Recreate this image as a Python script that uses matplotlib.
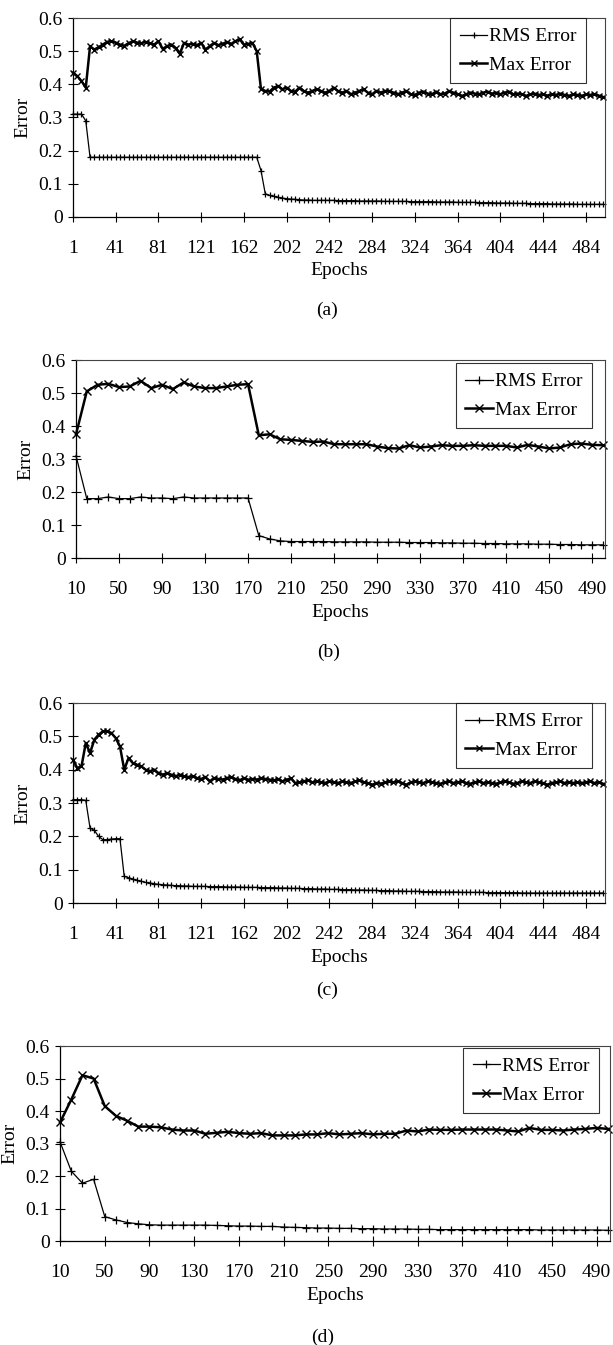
import matplotlib
matplotlib.use('Agg')
from matplotlib import pyplot as plt
import numpy as np

plt.rcParams['font.family'] = ['Liberation Serif', 'DejaVu Serif']

# panels (a) and (c): 125 samples, category axis labelled every 10 samples
epoch_labels_ac = ['1', '41', '81', '121', '162', '202', '242', '284',
                   '324', '364', '404', '444', '484']

rms_a = [0.31, 0.31, 0.31, 0.29, 0.18, 0.18, 0.18, 0.18, 0.18, 0.18,
         0.18, 0.18, 0.18, 0.18, 0.18, 0.18, 0.18, 0.18, 0.18, 0.18,
         0.18, 0.18, 0.18, 0.18, 0.18, 0.18, 0.18, 0.18, 0.18, 0.18,
         0.18, 0.18, 0.18, 0.18, 0.18, 0.18, 0.18, 0.18, 0.18, 0.18,
         0.18, 0.18, 0.18, 0.18, 0.14, 0.07, 0.065, 0.062, 0.059, 0.057,
         0.055, 0.054, 0.053, 0.052, 0.051, 0.051, 0.05, 0.05, 0.05, 0.05,
         0.05, 0.05, 0.049, 0.049, 0.049, 0.049, 0.049, 0.048, 0.048, 0.048,
         0.048, 0.048, 0.048, 0.047, 0.047, 0.047, 0.047, 0.047, 0.047, 0.046,
         0.046, 0.046, 0.046, 0.046, 0.046, 0.045, 0.045, 0.045, 0.045, 0.045,
         0.044, 0.044, 0.044, 0.044, 0.044, 0.043, 0.043, 0.043, 0.043, 0.042,
         0.042, 0.042, 0.042, 0.041, 0.041, 0.041, 0.041, 0.040, 0.040, 0.040,
         0.040, 0.040, 0.039, 0.039, 0.039, 0.039, 0.039, 0.039, 0.038, 0.038,
         0.038, 0.038, 0.038, 0.038, 0.038]
max_a = [0.435, 0.425, 0.41, 0.39, 0.515, 0.505, 0.512, 0.52, 0.528, 0.53,
         0.526, 0.52, 0.516, 0.524, 0.53, 0.526, 0.524, 0.528, 0.524, 0.52,
         0.53, 0.507, 0.515, 0.52, 0.51, 0.492, 0.525, 0.52, 0.522, 0.518,
         0.525, 0.505, 0.515, 0.525, 0.518, 0.522, 0.528, 0.522, 0.53, 0.536,
         0.52, 0.522, 0.525, 0.50, 0.385, 0.38, 0.378, 0.39, 0.395, 0.385,
         0.39, 0.38, 0.378, 0.39, 0.38, 0.375, 0.38, 0.385, 0.38, 0.375,
         0.38, 0.39, 0.38, 0.375, 0.38, 0.37, 0.375, 0.38, 0.385, 0.375,
         0.37, 0.38, 0.375, 0.38, 0.38, 0.375, 0.37, 0.375, 0.38, 0.37,
         0.368, 0.375, 0.378, 0.372, 0.37, 0.378, 0.37, 0.372, 0.38, 0.375,
         0.37, 0.365, 0.37, 0.375, 0.372, 0.37, 0.375, 0.378, 0.372, 0.375,
         0.37, 0.375, 0.378, 0.37, 0.372, 0.37, 0.365, 0.37, 0.372, 0.368,
         0.37, 0.366, 0.37, 0.368, 0.372, 0.368, 0.365, 0.37, 0.368, 0.365,
         0.37, 0.368, 0.37, 0.366, 0.362]

rms_c = [0.31, 0.31, 0.31, 0.308, 0.225, 0.218, 0.2, 0.19, 0.19, 0.192,
         0.193, 0.193, 0.08, 0.076, 0.072, 0.068, 0.065, 0.062, 0.06, 0.058,
         0.056, 0.055, 0.054, 0.053, 0.052, 0.052, 0.051, 0.051, 0.05, 0.05,
         0.05, 0.05, 0.049, 0.049, 0.049, 0.049, 0.048, 0.048, 0.048, 0.048,
         0.047, 0.047, 0.047, 0.047, 0.046, 0.046, 0.046, 0.046, 0.045, 0.045,
         0.045, 0.044, 0.044, 0.044, 0.043, 0.043, 0.043, 0.042, 0.042, 0.042,
         0.041, 0.041, 0.041, 0.040, 0.040, 0.040, 0.039, 0.039, 0.039, 0.038,
         0.038, 0.038, 0.037, 0.037, 0.037, 0.036, 0.036, 0.036, 0.035, 0.035,
         0.035, 0.035, 0.034, 0.034, 0.034, 0.034, 0.033, 0.033, 0.033, 0.033,
         0.033, 0.032, 0.032, 0.032, 0.032, 0.032, 0.032, 0.031, 0.031, 0.031,
         0.031, 0.031, 0.031, 0.031, 0.031, 0.030, 0.030, 0.030, 0.030, 0.030,
         0.030, 0.030, 0.030, 0.030, 0.030, 0.030, 0.030, 0.030, 0.030, 0.030,
         0.030, 0.030, 0.030, 0.030, 0.030]
max_c = [0.43, 0.405, 0.41, 0.48, 0.45, 0.49, 0.505, 0.515, 0.515, 0.51,
         0.495, 0.47, 0.40, 0.435, 0.42, 0.415, 0.41, 0.40, 0.395, 0.40,
         0.39, 0.385, 0.39, 0.385, 0.38, 0.385, 0.38, 0.378, 0.38, 0.375,
         0.372, 0.378, 0.365, 0.375, 0.372, 0.37, 0.375, 0.378, 0.372, 0.368,
         0.375, 0.37, 0.372, 0.37, 0.375, 0.372, 0.37, 0.368, 0.372, 0.365,
         0.37, 0.374, 0.36, 0.362, 0.365, 0.368, 0.362, 0.365, 0.362, 0.36,
         0.365, 0.362, 0.36, 0.365, 0.362, 0.36, 0.365, 0.368, 0.362, 0.36,
         0.355, 0.36, 0.358, 0.362, 0.365, 0.362, 0.365, 0.36, 0.355, 0.362,
         0.365, 0.362, 0.36, 0.365, 0.362, 0.36, 0.358, 0.362, 0.365, 0.36,
         0.362, 0.365, 0.36, 0.358, 0.362, 0.365, 0.36, 0.362, 0.36, 0.358,
         0.362, 0.365, 0.362, 0.358, 0.36, 0.365, 0.362, 0.36, 0.365, 0.362,
         0.36, 0.355, 0.36, 0.362, 0.365, 0.36, 0.362, 0.36, 0.362, 0.36,
         0.362, 0.365, 0.36, 0.362, 0.358]

# panels (b) and (d): one sample every 10 epochs
epochs_bd = [10, 20, 30, 40, 50, 60, 70, 80, 90, 100,
             110, 120, 130, 140, 150, 160, 170, 180, 190, 200,
             210, 220, 230, 240, 250, 260, 270, 280, 290, 300,
             310, 320, 330, 340, 350, 360, 370, 380, 390, 400,
             410, 420, 430, 440, 450, 460, 470, 480, 490, 500]

rms_b = [0.31, 0.18, 0.18, 0.185, 0.18, 0.18, 0.185, 0.182, 0.182, 0.18,
         0.185, 0.182, 0.182, 0.182, 0.182, 0.182, 0.182, 0.068, 0.058, 0.052,
         0.05, 0.05, 0.05, 0.05, 0.049, 0.049, 0.049, 0.049, 0.048, 0.048,
         0.048, 0.047, 0.047, 0.047, 0.046, 0.046, 0.045, 0.045, 0.044, 0.044,
         0.043, 0.043, 0.043, 0.042, 0.042, 0.041, 0.041, 0.04, 0.04, 0.04]
max_b = [0.375, 0.505, 0.525, 0.528, 0.518, 0.52, 0.537, 0.515, 0.525, 0.512,
         0.532, 0.52, 0.515, 0.515, 0.52, 0.525, 0.527, 0.372, 0.375, 0.36,
         0.358, 0.355, 0.352, 0.353, 0.345, 0.345, 0.345, 0.345, 0.338, 0.333,
         0.332, 0.342, 0.335, 0.338, 0.342, 0.34, 0.34, 0.342, 0.34, 0.34,
         0.34, 0.335, 0.343, 0.338, 0.332, 0.335, 0.345, 0.347, 0.343, 0.342]

rms_d = [0.305, 0.215, 0.178, 0.19, 0.075, 0.065, 0.057, 0.053, 0.05, 0.049,
         0.049, 0.049, 0.049, 0.049, 0.048, 0.047, 0.046, 0.046, 0.045, 0.045,
         0.043, 0.042, 0.041, 0.04, 0.04, 0.039, 0.039, 0.038, 0.038, 0.037,
         0.037, 0.037, 0.036, 0.036, 0.035, 0.035, 0.035, 0.035, 0.035, 0.035,
         0.035, 0.035, 0.035, 0.034, 0.034, 0.034, 0.034, 0.034, 0.034, 0.033]
max_d = [0.365, 0.435, 0.51, 0.5, 0.415, 0.385, 0.37, 0.352, 0.352, 0.35,
         0.343, 0.34, 0.34, 0.33, 0.333, 0.336, 0.332, 0.33, 0.332, 0.325,
         0.325, 0.325, 0.328, 0.328, 0.332, 0.328, 0.33, 0.332, 0.328, 0.33,
         0.33, 0.34, 0.337, 0.343, 0.342, 0.342, 0.343, 0.343, 0.343, 0.343,
         0.34, 0.337, 0.348, 0.342, 0.342, 0.34, 0.343, 0.345, 0.348, 0.345]

fig = plt.figure(figsize=(6.13, 13.45), dpi=100)


def panel(rect, x, rms, mx, ticks, ticklabels, xlim, leg_anchor, tag, tag_y,
          ms_x, ms_p):
    ax = fig.add_axes(rect)
    ax.plot(x, rms, '-', color='black', lw=0.9, marker='+', ms=ms_p, mew=0.9,
            label='RMS Error', clip_on=False)
    ax.plot(x, mx, '-', color='black', lw=1.8, marker='x', ms=ms_x, mew=1.0,
            label='Max Error', clip_on=False)
    ax.set_ylim(0, 0.6)
    ax.set_xlim(*xlim)
    ax.set_yticks([0, 0.1, 0.2, 0.3, 0.4, 0.5, 0.6])
    ax.set_yticklabels(['0', '0.1', '0.2', '0.3', '0.4', '0.5', '0.6'])
    ax.set_xticks(ticks)
    ax.set_xticklabels(ticklabels)
    ax.tick_params(axis='both', direction='inout', length=7, width=0.8,
                   labelsize=14, color='black')
    ax.tick_params(axis='x', pad=13)
    ax.tick_params(axis='y', pad=4)
    for s in ['left', 'bottom']:
        ax.spines[s].set_color('black')
        ax.spines[s].set_linewidth(0.9)
    for s in ['top', 'right']:
        ax.spines[s].set_color('#444444')
        ax.spines[s].set_linewidth(0.8)
    ax.set_xlabel('Epochs', fontsize=14, labelpad=4)
    ax.set_ylabel('Error', fontsize=14, labelpad=5)
    leg = ax.legend(loc='upper right', bbox_to_anchor=leg_anchor,
                    borderaxespad=0, fontsize=14, frameon=True,
                    fancybox=False, edgecolor='black', handlelength=1.4,
                    handletextpad=0.1, labelspacing=0.55, borderpad=0.5)
    leg.get_frame().set_linewidth(0.8)
    fig.text(rect[0] + rect[2] / 2 - 0.02, tag_y, tag, ha='center',
             va='center', fontsize=14)
    return ax


idx_ac = list(range(len(rms_a)))
ticks_ac = idx_ac[::10]
ticks_bd = epochs_bd[::4]
labels_bd = [str(e) for e in ticks_bd]

panel([0.119, 0.8387, 0.868, 0.1479], idx_ac, rms_a, max_a, ticks_ac,
      epoch_labels_ac, (0, 124.5), (0.965, 1.0), '(a)', 1 - 310 / 1345,
      5, 4.5)
panel([0.124, 0.5851, 0.863, 0.1472], epochs_bd, rms_b, max_b, ticks_bd,
      labels_bd, (10, 502), (0.975, 0.985), '(b)', 1 - 652 / 1345, 6, 5.5)
panel([0.119, 0.3286, 0.868, 0.1487], list(range(len(rms_c))), rms_c, max_c,
      ticks_ac, epoch_labels_ac, (0, 124.5), (0.975, 1.0), '(c)',
      1 - 990 / 1345, 5, 4.5)
panel([0.098, 0.0773, 0.897, 0.145], epochs_bd, rms_d, max_d, ticks_bd,
      labels_bd, (10, 502), (0.98, 0.99), '(d)', 1 - 1337 / 1345, 6, 5.5)

fig.savefig('out.png', dpi=100)
